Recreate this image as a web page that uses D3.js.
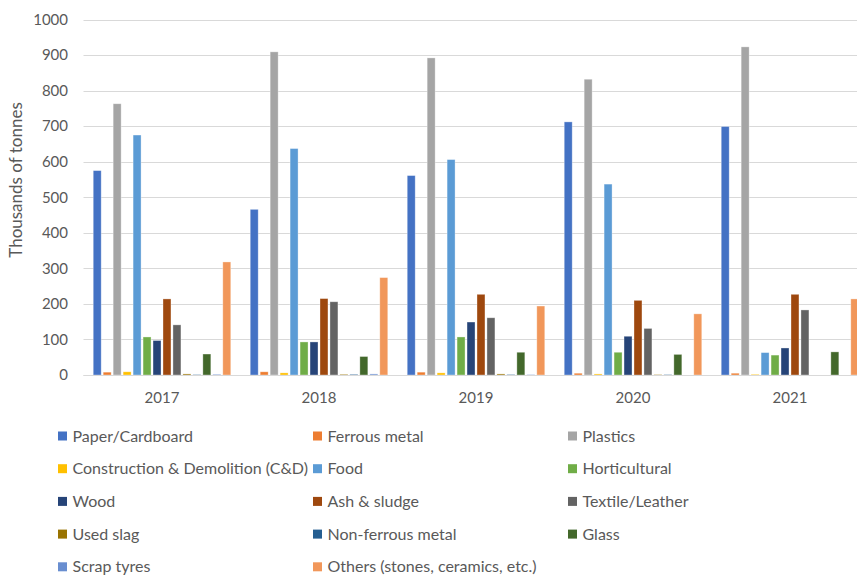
<!DOCTYPE html>
<html>
<head>
<meta charset="utf-8">
<script src="https://cdn.jsdelivr.net/npm/d3@7"></script>
<style>
  html, body { margin: 0; padding: 0; background: #fff; }
  svg { display: block; font-family: Lato, "Open Sans", sans-serif; }
</style>
</head>
<body>
<svg id="chart" width="857" height="577"></svg>
<script>
// Years on the category axis
const years = ["2017", "2018", "2019", "2020", "2021"];

// Waste types, in series order
const seriesNames = [
  "Paper/Cardboard", "Ferrous metal", "Plastics",
  "Construction & Demolition (C&D)", "Food", "Horticultural",
  "Wood", "Ash & sludge", "Textile/Leather",
  "Used slag", "Non-ferrous metal", "Glass",
  "Scrap tyres", "Others (stones, ceramics, etc.)"
];

const seriesColors = [
  "#4472C4", "#ED7D31", "#A5A5A5",
  "#FFC000", "#5B9BD5", "#70AD47",
  "#264478", "#9E480E", "#636363",
  "#997300", "#255E91", "#43682B",
  "#698ED0", "#F1975A"
];

// Thousands of tonnes, one array per waste type (2017..2021)
const paperCardboard   = [575, 466, 561, 712, 699];
const ferrousMetal     = [8, 9, 8, 5, 5];
const plastics         = [763, 909, 892, 832, 923];
const constructionCD   = [9, 6, 6, 3, 2];
const food             = [675, 637, 606, 537, 63];
const horticultural    = [107, 93, 107, 64, 56];
const wood             = [97, 93, 149, 109, 76];
const ashSludge        = [214, 215, 227, 210, 227];
const textileLeather   = [141, 206, 161, 131, 183];
const usedSlag         = [3, 2, 3, 1, 0];
const nonFerrousMetal  = [1, 2, 1.5, 1, 0];
const glass            = [59, 52, 64, 58, 65];
const scrapTyres       = [2, 3, 1, 0, 0];
const others           = [318, 274, 194, 172, 214];

const seriesValues = [
  paperCardboard, ferrousMetal, plastics,
  constructionCD, food, horticultural,
  wood, ashSludge, textileLeather,
  usedSlag, nonFerrousMetal, glass,
  scrapTyres, others
];

// Y axis ticks
const yTicks = [0, 100, 200, 300, 400, 500, 600, 700, 800, 900, 1000];

const svg = d3.select("#chart");
const textColor = "#595959";
const gridColor = "#D9D9D9";

// Plot area (the category axis runs past the right edge of the page)
const plotLeft = 83.5, bandStep = 157;
const x0 = d3.scaleBand()
  .domain(years)
  .range([plotLeft, plotLeft + bandStep * years.length])
  .padding(0);

const x1 = d3.scaleBand()
  .domain(seriesNames)
  .range([0, x0.bandwidth()])
  .paddingInner(0.2)
  .paddingOuter(0.975);

const y = d3.scaleLinear().domain([0, 1000]).range([375, 19.5]);

// Gridlines
svg.append("g")
  .selectAll("line")
  .data(yTicks)
  .join("line")
  .attr("x1", plotLeft)
  .attr("x2", 857)
  .attr("y1", d => Math.round(y(d)) + 0.5)
  .attr("y2", d => Math.round(y(d)) + 0.5)
  .attr("stroke", gridColor)
  .attr("stroke-width", 1);

// Y tick labels
svg.append("g")
  .selectAll("text")
  .data(yTicks)
  .join("text")
  .attr("x", 68)
  .attr("y", d => y(d))
  .attr("dy", "0.35em")
  .attr("text-anchor", "end")
  .attr("fill", textColor)
  .attr("font-size", 15)
  .text(d => d);

// Y axis title
svg.append("text")
  .attr("transform", "translate(22,180) rotate(-90)")
  .attr("text-anchor", "middle")
  .attr("fill", textColor)
  .attr("font-size", 17)
  .text("Thousands of tonnes");

// Bars
const groups = svg.append("g")
  .selectAll("g")
  .data(years)
  .join("g")
  .attr("transform", d => `translate(${x0(d)},0)`);

groups.selectAll("rect")
  .data((yr, i) => seriesNames.map((name, s) => ({ name, s, value: seriesValues[s][i] })))
  .join("rect")
  .attr("x", d => x1(d.name))
  .attr("width", x1.bandwidth())
  .attr("y", d => y(d.value))
  .attr("height", d => y(0) - y(d.value))
  .attr("fill", d => seriesColors[d.s])
  .attr("stroke", "#ffffff")
  .attr("stroke-opacity", 0.45)
  .attr("stroke-width", 0.75);

// Category axis line and labels
svg.append("line")
  .attr("x1", plotLeft).attr("x2", 857)
  .attr("y1", Math.round(y(0)) + 0.5).attr("y2", Math.round(y(0)) + 0.5)
  .attr("stroke", gridColor);

svg.append("g")
  .selectAll("text")
  .data(years)
  .join("text")
  .attr("x", d => x0(d) + x0.bandwidth() / 2)
  .attr("y", 398)
  .attr("dy", "0.35em")
  .attr("text-anchor", "middle")
  .attr("fill", textColor)
  .attr("font-size", 15)
  .text(d => d);

// Legend: three columns, five rows
const legendCols = [58, 313, 568];
const legendRow0 = 436, legendRowStep = 32.7;
const legend = svg.append("g")
  .selectAll("g")
  .data(seriesNames)
  .join("g")
  .attr("transform", (d, i) =>
    `translate(${legendCols[i % 3]},${legendRow0 + Math.floor(i / 3) * legendRowStep})`);

legend.append("rect")
  .attr("x", 0).attr("y", -4.5)
  .attr("width", 9).attr("height", 9)
  .attr("fill", (d, i) => seriesColors[i]);

legend.append("text")
  .attr("x", 14.5)
  .attr("y", 0)
  .attr("dy", "0.35em")
  .attr("fill", textColor)
  .attr("font-size", 16)
  .text(d => d);
</script>
</body>
</html>
